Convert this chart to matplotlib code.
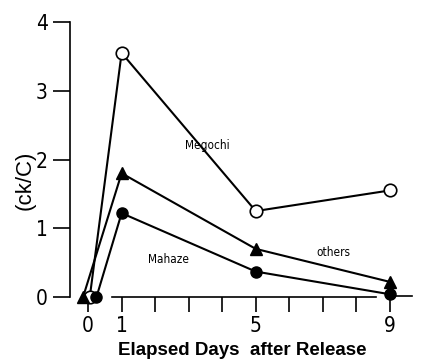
import matplotlib
matplotlib.use("Agg")
import matplotlib.pyplot as plt

# elapsed days and (ck/C) values
megochi_days = [0.05, 1, 5, 9]
megochi_vals = [0.0, 3.55, 1.25, 1.55]
others_days = [-0.15, 1, 5, 9]
others_vals = [0.0, 1.8, 0.7, 0.22]
mahaze_days = [0.25, 1, 5, 9]
mahaze_vals = [0.0, 1.22, 0.37, 0.04]

xticks_major = [0, 1, 5, 9]
xticks_minor = [2, 3, 4, 6, 7, 8]
yticks = [0, 1, 2, 3, 4]

cond = dict(family='DejaVu Sans', stretch='condensed')

fig = plt.figure(figsize=(4.23, 3.61), dpi=100)
ax = fig.add_axes([70 / 423, 64 / 361, 345 / 423, 275 / 361])

ax.plot(megochi_days, megochi_vals, color='black', lw=1.5, marker='o',
        ms=9, mfc='white', mec='black', mew=1.2, clip_on=False, zorder=3)
ax.plot(others_days, others_vals, color='black', lw=1.5, marker='^',
        ms=9, mfc='black', mec='black', clip_on=False, zorder=3)
ax.plot(mahaze_days, mahaze_vals, color='black', lw=1.5, marker='o',
        ms=8, mfc='black', mec='black', clip_on=False, zorder=3)

ax.text(2.9, 2.2, 'Megochi', fontsize=8.5, va='center', **cond)
ax.text(1.8, 0.54, 'Mahaze', fontsize=8.5, va='center', **cond)
ax.text(6.8, 0.64, 'others', fontsize=8.5, va='center', **cond)

ax.set_xlim(-0.54, 9.75)
ax.set_ylim(0, 4)

ax.spines['top'].set_visible(False)
ax.spines['right'].set_visible(False)
ax.spines['left'].set_bounds(0, 4)
ax.spines['left'].set_linewidth(1.2)
ax.spines['bottom'].set_bounds(0.7, 8.6)
ax.spines['bottom'].set_linewidth(1.2)
ax.plot([9.1, 9.65], [0.02, 0.02], color='black', lw=1.2, clip_on=False)

ax.set_yticks(yticks)
ax.set_yticklabels([str(v) for v in yticks], fontsize=15, **cond)
ax.set_xticks(xticks_major)
ax.set_xticklabels([str(v) for v in xticks_major], fontsize=15, **cond)
ax.set_xticks(xticks_minor, minor=True)
ax.tick_params(axis='y', direction='out', length=12, width=1.2, pad=4)
ax.tick_params(axis='x', which='both', direction='out', length=11, width=1.2, pad=3)

ax.set_xlabel('Elapsed Days  after Release', fontsize=13.5, fontweight='bold',
              family=['Liberation Sans', 'DejaVu Sans'], labelpad=4)
ax.set_ylabel('(ck/C)', fontsize=16, family=['Liberation Sans', 'DejaVu Sans'],
              va='center')
ax.yaxis.set_label_coords(-0.13, 0.425)

fig.savefig('out.png', dpi=100)
